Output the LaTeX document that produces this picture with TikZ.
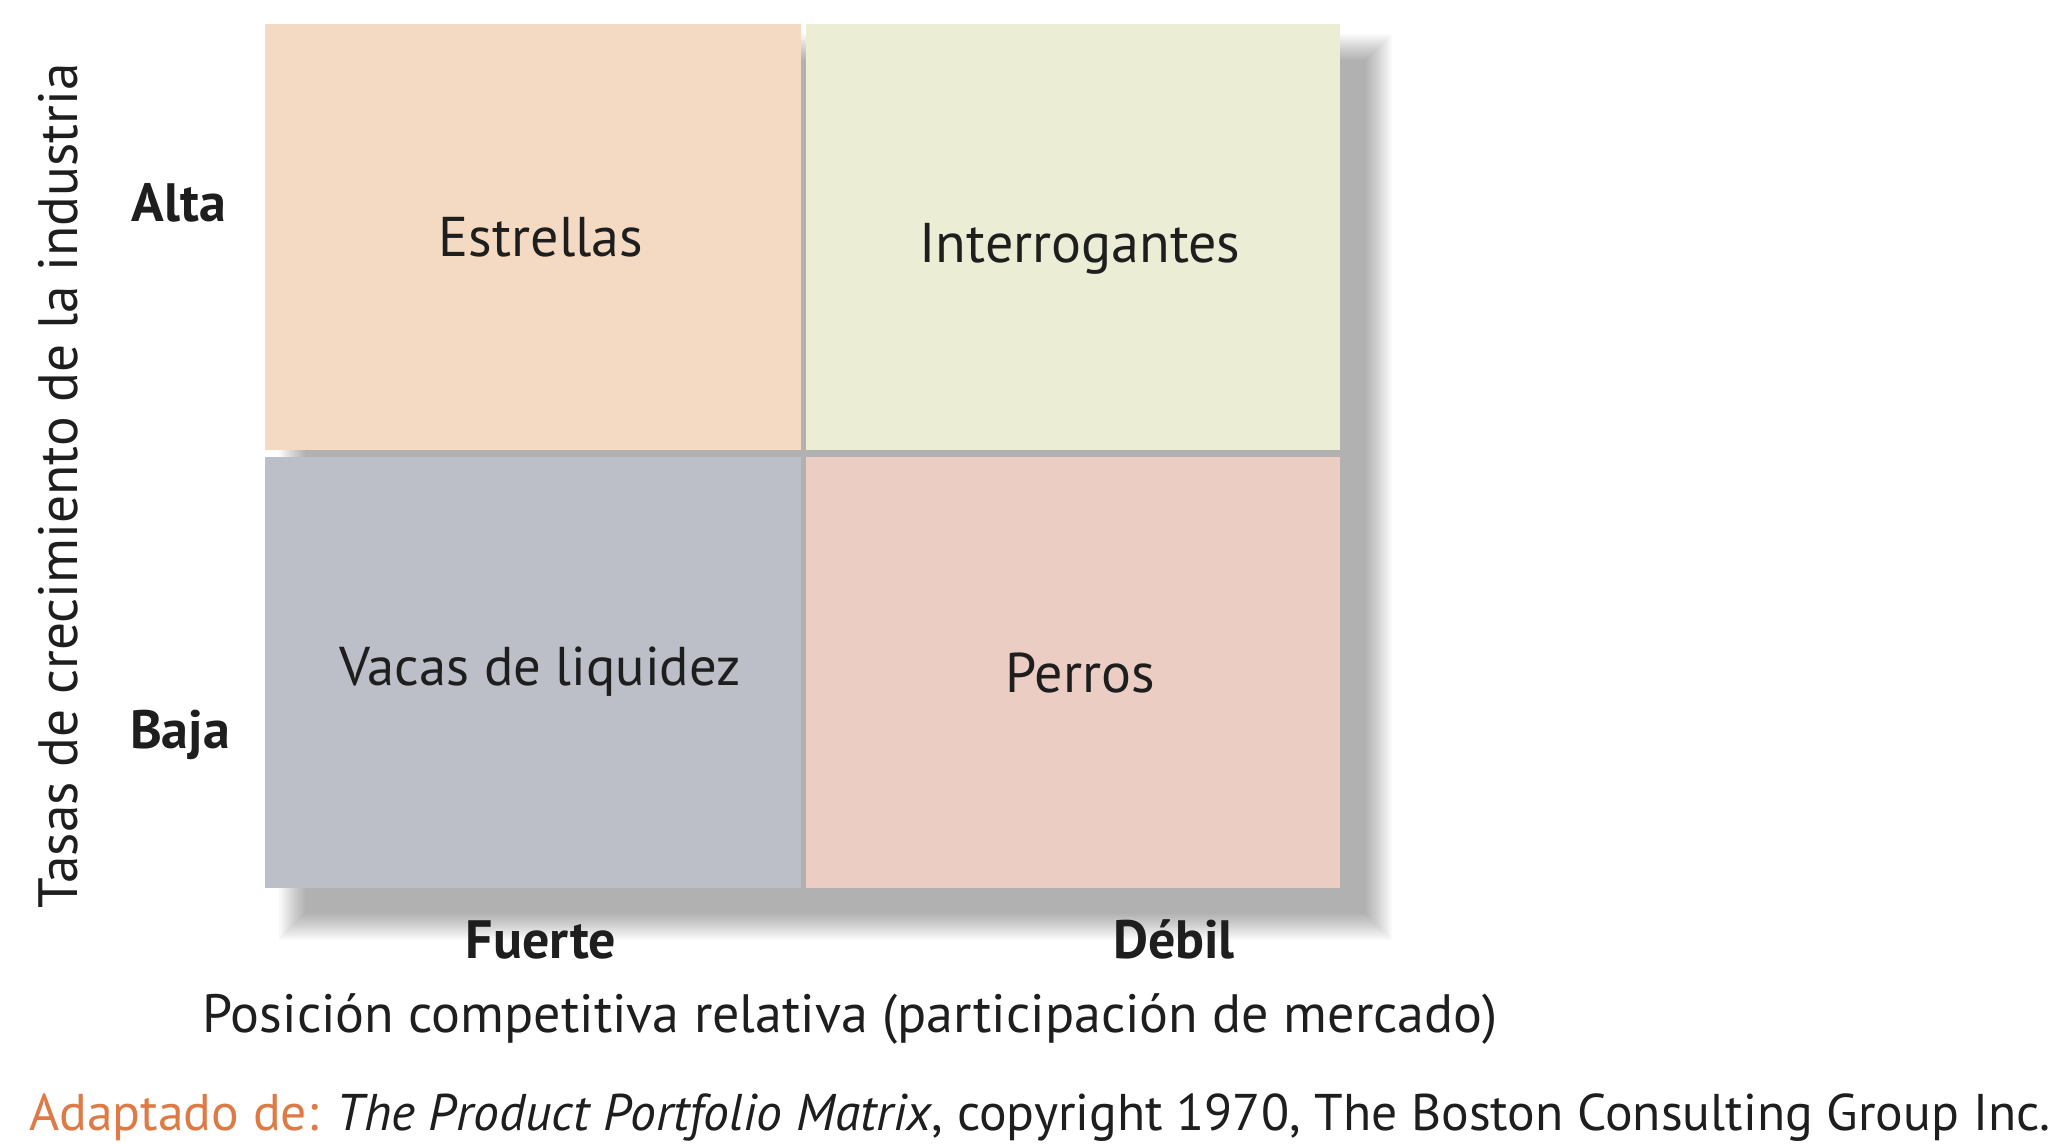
\documentclass[tikz,border=0pt]{standalone}
\usepackage{fontspec}
\setmainfont{PT Sans}
\definecolor{cStar}{HTML}{F5DAC3}
\definecolor{cQuest}{HTML}{EBEDD5}
\definecolor{cCow}{HTML}{BCBFC8}
\definecolor{cDog}{HTML}{ECCDC3}
\definecolor{cOrange}{HTML}{DD7A45}
\definecolor{cText}{HTML}{1E1E1E}
\tikzset{
  quad/.style={draw=none, anchor=north west, inner sep=0pt},
  quadlabel/.style={text=cText, font=\fontsize{28}{32}\selectfont, inner sep=0pt},
  axislabel/.style={text=cText, font=\fontsize{27}{32}\selectfont\bfseries, inner sep=0pt},
  plainlabel/.style={text=cText, font=\fontsize{27}{32}\selectfont, inner sep=0pt},
}
\newcommand{\softshadow}[4]{%
  \foreach \r in {26,24,...,0}{
    \fill[black, opacity=0.024] (#1+40-\r,#2+36-\r) rectangle (#3+26+\r,#4+26+\r);
  }
}
\begin{document}
\begin{tikzpicture}[x=0.5pt,y=-0.5pt]
\useasboundingbox (0,0) rectangle (2062,1144);
\fill[white] (0,0) rectangle (2062,1144);
% shadow of the whole matrix
\softshadow{265}{24}{1340}{888}
% quadrants
\node[quad, fill=cStar, minimum width=268pt, minimum height=213pt] (star) at (265,24) {};
\node[quad, fill=cQuest, minimum width=267pt, minimum height=213pt] (quest) at (806,24) {};
\node[quad, fill=cCow, minimum width=268pt, minimum height=215.5pt] (cow) at (265,457) {};
\node[quad, fill=cDog, minimum width=267pt, minimum height=215.5pt] (dog) at (806,457) {};
% quadrant labels
\node[quadlabel, anchor=base] (lstar) at (541,257) {Estrellas};
\node[quadlabel, anchor=base] (lquest) at (1080,263) {Interrogantes};
\node[quadlabel, anchor=base, font=\fontsize{27.3}{32}\selectfont] (lcow) at (540,685) {Vacas de liquidez};
\node[quadlabel, anchor=base] (ldog) at (1080,692) {Perros};
% axis labels
\node[axislabel, anchor=base] (alta) at (179,222) {Alta};
\node[axislabel, anchor=base] (baja) at (180,748) {Baja};
\node[axislabel, anchor=base] (fuerte) at (541,958) {Fuerte};
\node[axislabel, anchor=base] (debil) at (1174,958) {Débil};
\node[plainlabel, anchor=base] (xaxis) at (850,1032) {Posición competitiva relativa (participación de mercado)};
\node[plainlabel, anchor=base, rotate=90, font=\fontsize{27.7}{32}\selectfont] (yaxis) at (77,486) {Tasas de crecimiento de la industria};
% source
\node[plainlabel, anchor=base west, font=\fontsize{25.8}{30}\selectfont] (source) at (29,1130) {\textcolor{cOrange}{Adaptado de:} \textit{The Product Portfolio Matrix}, copyright 1970, The Boston Consulting Group Inc.};
\end{tikzpicture}
\end{document}
